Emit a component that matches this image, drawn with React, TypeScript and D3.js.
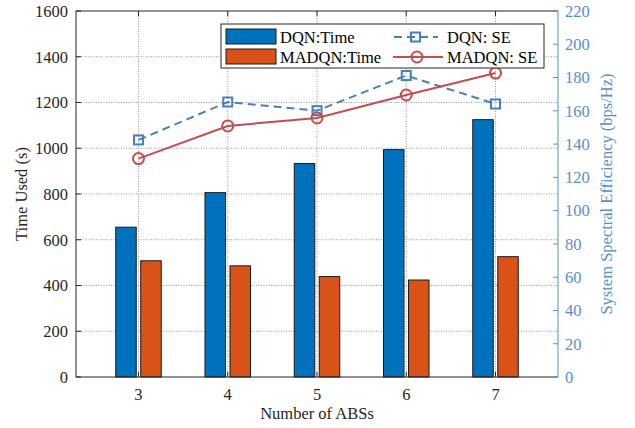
import React from "react";
import * as d3 from "d3";

const categories = [3, 4, 5, 6, 7];
const dqnTime = [655, 806, 933, 994, 1125];
const madqnTime = [508, 486, 439, 424, 526];
const dqnSE = [142.5, 165.3, 160.1, 181.2, 164.1];
const madqnSE = [131.3, 150.9, 155.7, 169.5, 182.7];
const leftTicks = [0, 200, 400, 600, 800, 1000, 1200, 1400, 1600];
const rightTicks = [0, 20, 40, 60, 80, 100, 120, 140, 160, 180, 200, 220];

const W = 635, H = 428;
const L = 76, R = 558, T = 11, B = 377;
const BLUE = "#0072BD", ORANGE = "#D95319";
const SEBLUE = "#4a7ec2", SERED = "#c44d4f", AXBLUE = "#5a8dce";
const FONT = "'Liberation Serif', 'Times New Roman', serif";
const FS = 16.5;

export default function App() {
  const x = d3.scaleLinear().domain([2.3, 7.7]).range([L, R]);
  const yL = d3.scaleLinear().domain([0, 1600]).range([B, T]);
  const yR = d3.scaleLinear().domain([0, 220]).range([B, T]);
  const bw = 20.5, off = 12.5;
  const lineGen = d3.line<number>().x((_, i) => x(categories[i])).y((d) => yR(d));

  return (
    <svg width={W} height={H} style={{ position: "absolute", left: 0, top: 0, background: "#fff" }} fontFamily={FONT}>
      <rect x={0} y={0} width={W} height={H} fill="#fff" />
      {/* grid */}
      {leftTicks.slice(1, -1).map((t) => (
        <line key={"gh" + t} x1={L} x2={R} y1={yL(t)} y2={yL(t)} stroke="#8a8a8a" strokeWidth={0.9} strokeDasharray="1,1.5" />
      ))}
      {categories.map((c) => (
        <line key={"gv" + c} x1={x(c)} x2={x(c)} y1={T} y2={B} stroke="#8a8a8a" strokeWidth={0.9} strokeDasharray="1,1.5" />
      ))}
      {/* bars */}
      {categories.map((c, i) => (
        <g key={"b" + c}>
          <rect x={x(c) - off - bw / 2} y={yL(dqnTime[i])} width={bw} height={B - yL(dqnTime[i])} fill={BLUE} stroke="#1a1a1a" strokeWidth={1} />
          <rect x={x(c) + off - bw / 2} y={yL(madqnTime[i])} width={bw} height={B - yL(madqnTime[i])} fill={ORANGE} stroke="#1a1a1a" strokeWidth={1} />
        </g>
      ))}
      {/* lines */}
      <path d={lineGen(dqnSE) || ""} fill="none" stroke={SEBLUE} strokeWidth={2} strokeDasharray="8,5" />
      {dqnSE.map((v, i) => (
        <rect key={"sq" + i} x={x(categories[i]) - 4.5} y={yR(v) - 4.5} width={9} height={9} fill="none" stroke={SEBLUE} strokeWidth={2} />
      ))}
      <path d={lineGen(madqnSE) || ""} fill="none" stroke={SERED} strokeWidth={2} />
      {madqnSE.map((v, i) => (
        <circle key={"ci" + i} cx={x(categories[i])} cy={yR(v)} r={5.5} fill="none" stroke={SERED} strokeWidth={2} />
      ))}
      {/* axes box */}
      <line x1={L} x2={R} y1={T} y2={T} stroke="#262626" strokeWidth={1} />
      <line x1={L} x2={R} y1={B} y2={B} stroke="#262626" strokeWidth={1} />
      <line x1={L} x2={L} y1={T} y2={B} stroke="#262626" strokeWidth={1} />
      <line x1={R} x2={R} y1={T} y2={B} stroke={AXBLUE} strokeWidth={1} />
      {/* left ticks */}
      {leftTicks.map((t) => (
        <g key={"lt" + t}>
          <line x1={L} x2={L + 5} y1={yL(t)} y2={yL(t)} stroke="#262626" />
          <text x={L - 8} y={yL(t)} dy="0.35em" textAnchor="end" fontSize={FS} fill="#262626">{t}</text>
        </g>
      ))}
      {/* right ticks */}
      {rightTicks.map((t) => (
        <g key={"rt" + t}>
          <line x1={R} x2={R - 5} y1={yR(t)} y2={yR(t)} stroke={AXBLUE} />
          <text x={R + 7} y={yR(t)} dy="0.35em" textAnchor="start" fontSize={FS} fill={AXBLUE}>{t}</text>
        </g>
      ))}
      {/* x ticks */}
      {categories.map((c) => (
        <g key={"xt" + c}>
          <line x1={x(c)} x2={x(c)} y1={B} y2={B - 5} stroke="#262626" />
          <line x1={x(c)} x2={x(c)} y1={T} y2={T + 5} stroke="#262626" />
          <text x={x(c)} y={B + 23} textAnchor="middle" fontSize={FS} fill="#262626">{c}</text>
        </g>
      ))}
      {/* axis labels */}
      <text x={(L + R) / 2} y={419} textAnchor="middle" fontSize={FS} fill="#262626">Number of ABSs</text>
      <text transform={`translate(27,${(T + B) / 2}) rotate(-90)`} textAnchor="middle" fontSize={FS} fill="#262626">Time Used (s)</text>
      <text transform={`translate(612,${(T + B) / 2}) rotate(-90)`} textAnchor="middle" fontSize={FS} fill={AXBLUE}>System Spectral Efficiency (bps/Hz)</text>
      {/* legend */}
      <g>
        <rect x={221} y={24} width={323} height={44} fill="#fff" stroke="#262626" strokeWidth={1} />
        <rect x={226} y={29} width={50} height={15} fill={BLUE} stroke="#1a1a1a" />
        <text x={280} y={37} dy="0.35em" fontSize={FS} fill="#000">DQN:Time</text>
        <rect x={226} y={49} width={50} height={15} fill={ORANGE} stroke="#1a1a1a" />
        <text x={280} y={57} dy="0.35em" fontSize={FS} fill="#000">MADQN:Time</text>
        <line x1={393} x2={438} y1={37} y2={37} stroke={SEBLUE} strokeWidth={2} strokeDasharray="8,5" strokeDashoffset={-1} />
        <rect x={411} y={32.5} width={9} height={9} fill="none" stroke={SEBLUE} strokeWidth={2} />
        <text x={447} y={37} dy="0.35em" fontSize={FS} fill="#000">DQN: SE</text>
        <line x1={393} x2={443} y1={57} y2={57} stroke={SERED} strokeWidth={2} />
        <circle cx={417} cy={57} r={5.5} fill="none" stroke={SERED} strokeWidth={2} />
        <text x={447} y={57} dy="0.35em" fontSize={FS} fill="#000">MADQN: SE</text>
      </g>
    </svg>
  );
}
